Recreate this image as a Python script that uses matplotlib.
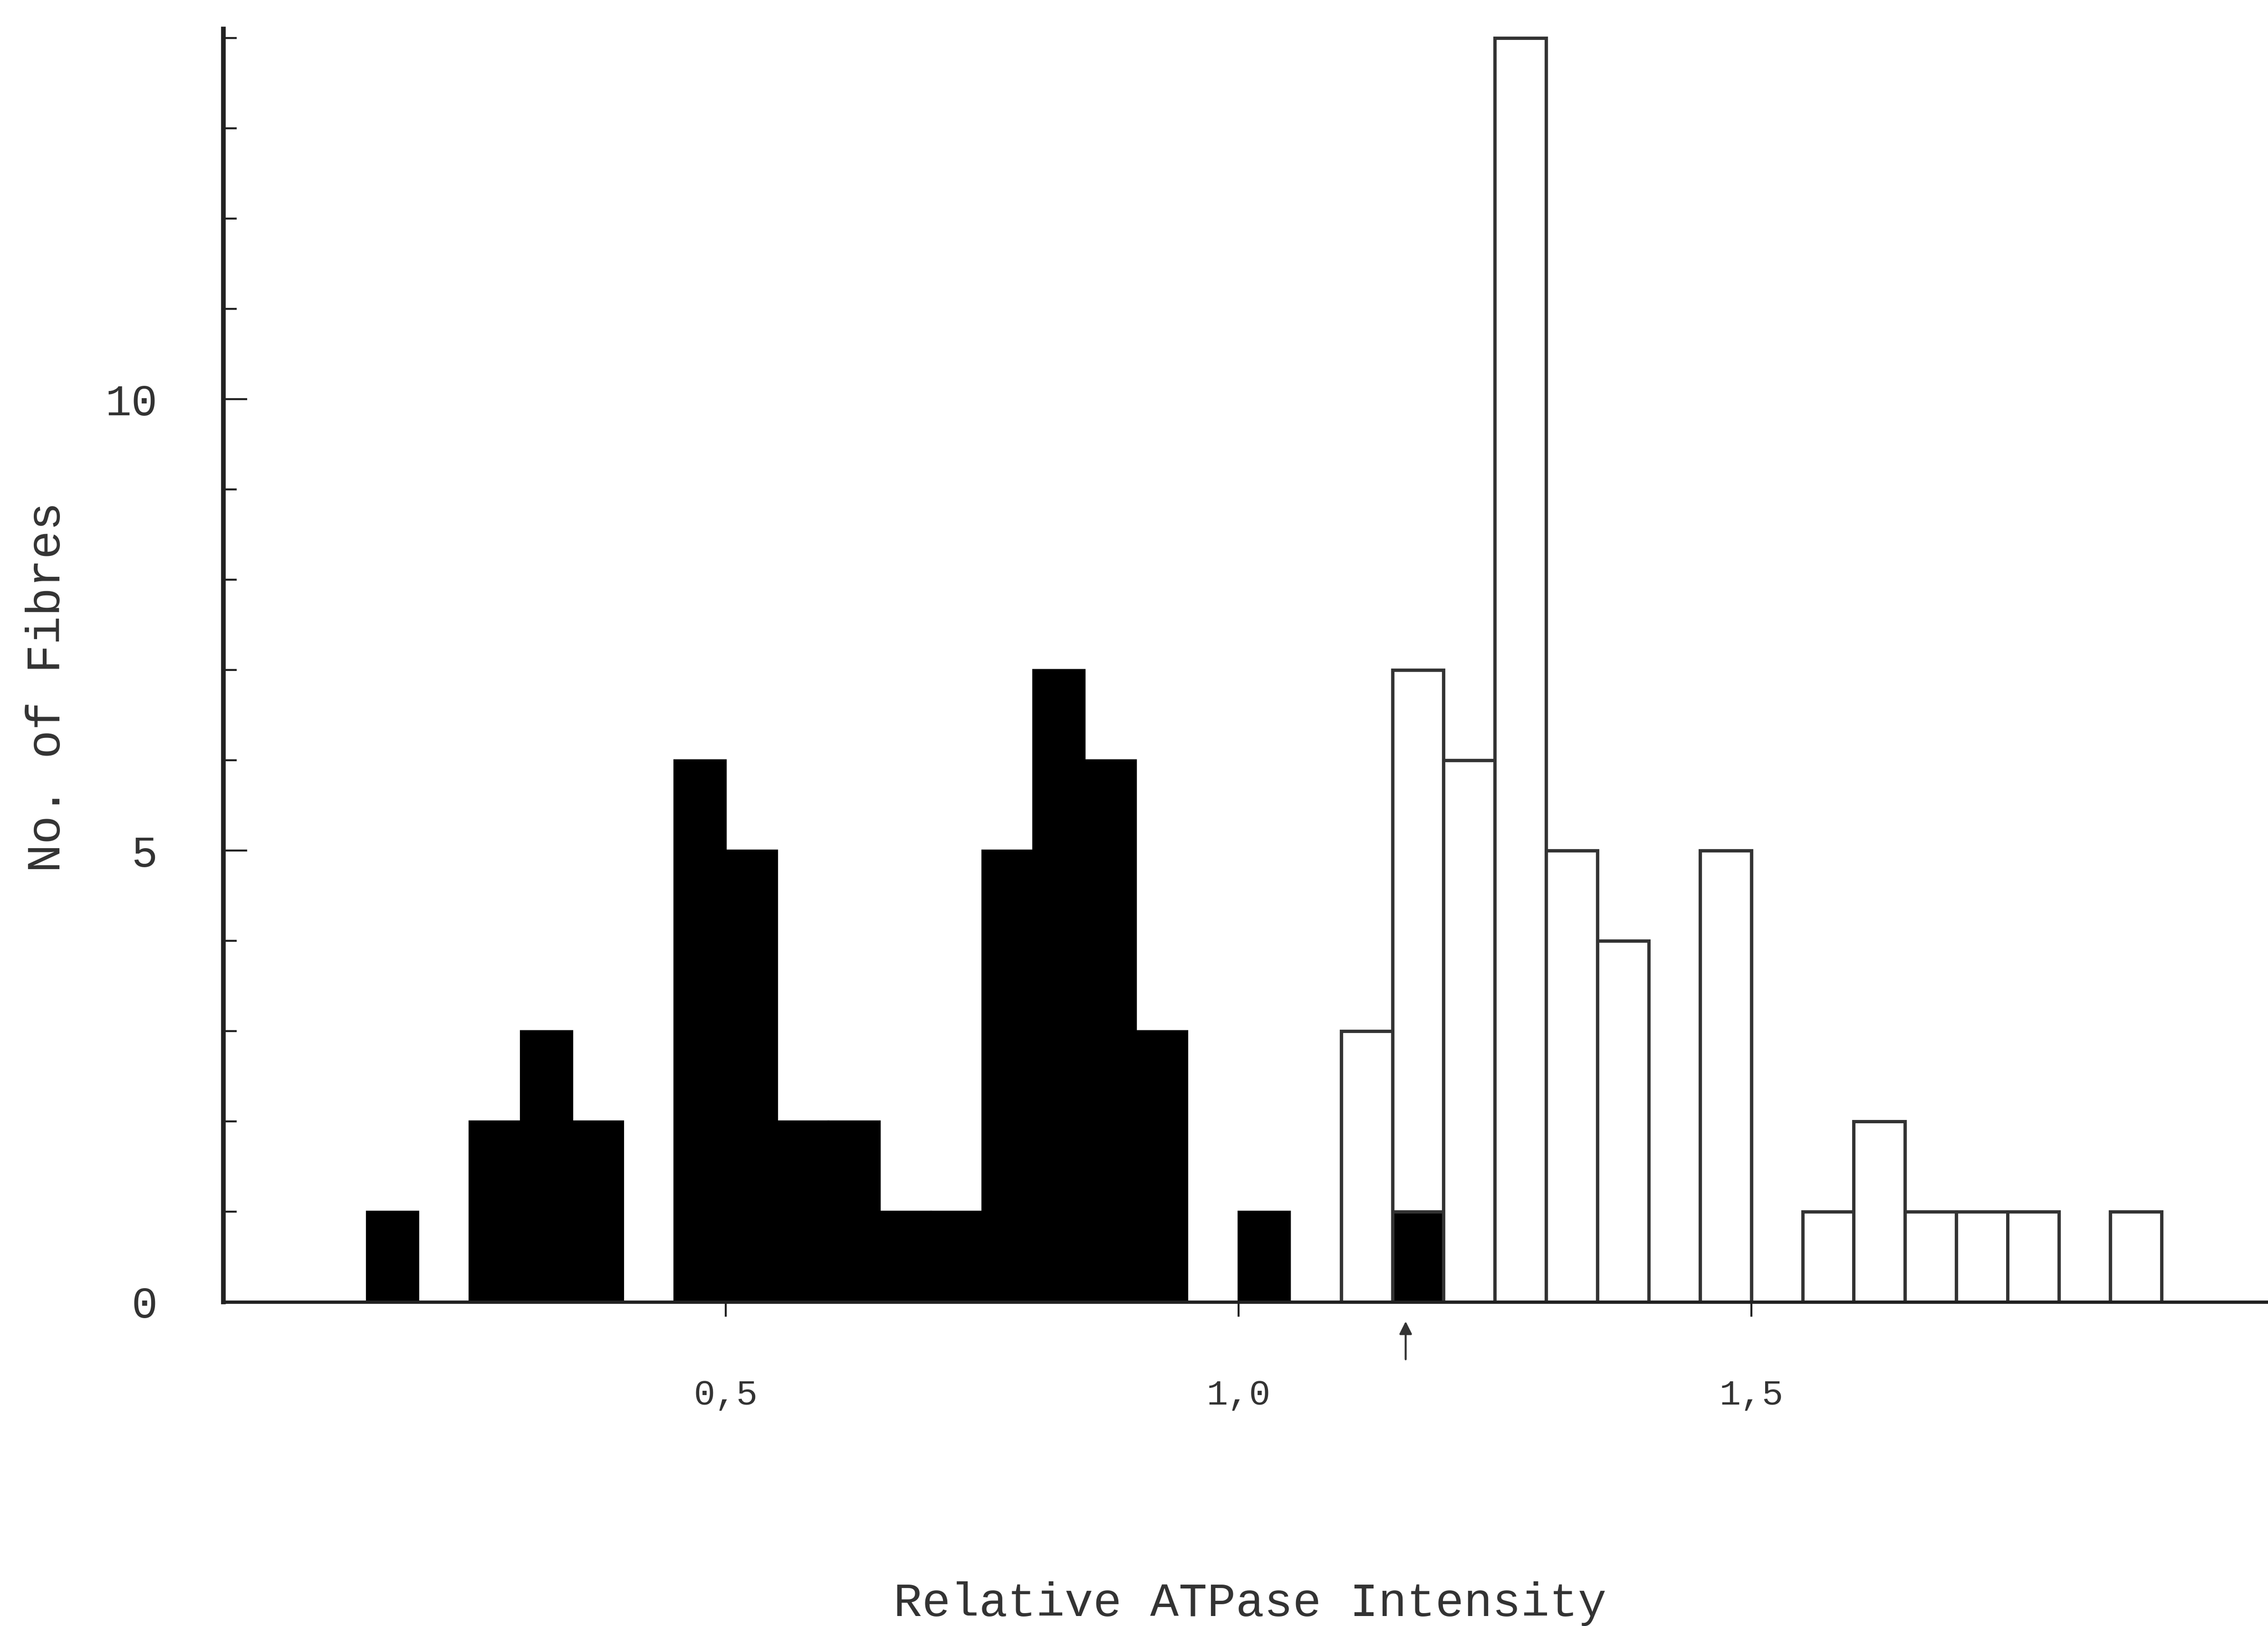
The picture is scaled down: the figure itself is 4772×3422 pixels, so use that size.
import matplotlib
matplotlib.use("Agg")
import matplotlib.pyplot as plt
import numpy as np

# Histogram data (bin start, count); bin width 0.05
bin_width = 0.05
black_bins = [0.15, 0.25, 0.30, 0.35, 0.45, 0.50, 0.55, 0.60, 0.65, 0.70,
              0.75, 0.80, 0.85, 0.90, 1.00, 1.15]
black_counts = [1, 2, 3, 2, 6, 5, 2, 2, 1, 1, 5, 7, 6, 3, 1, 1]
white_bins = [1.10, 1.15, 1.20, 1.25, 1.30, 1.35, 1.45, 1.55, 1.60, 1.65,
              1.70, 1.75, 1.85]
white_counts = [3, 6, 6, 14, 5, 4, 5, 1, 2, 1, 1, 1, 1]
arrow_x = 1.163

x_ticks = [0.5, 1.0, 1.5]
x_ticklabels = ["0,5", "1,0", "1,5"]
y_major = [0, 5, 10]
y_ticklabels = ["0", "5", "10"]

FONT = "Liberation Mono"

fig = plt.figure(figsize=(47.72, 34.22), dpi=100)
ax = fig.add_axes([0.0985, 0.1993, 0.9015, 0.7828])

# white bars stacked on black where bins coincide
black_lookup = {round(b, 2): c for b, c in zip(black_bins, black_counts)}
white_bottom = [black_lookup.get(round(b, 2), 0) for b in white_bins]

ax.bar(black_bins, black_counts, width=bin_width, align="edge",
       color="black", edgecolor="black", linewidth=3, zorder=2)
ax.bar(white_bins, white_counts, width=bin_width, bottom=white_bottom,
       align="edge", color="white", edgecolor="#333333", linewidth=5, zorder=2)

ax.set_xlim(0.01, 2.004)
ax.set_ylim(0, 14.1)

for s in ["top", "right"]:
    ax.spines[s].set_visible(False)
ax.spines["left"].set_linewidth(7)
ax.spines["bottom"].set_linewidth(5)
ax.spines["left"].set_color("#222222")
ax.spines["bottom"].set_color("#222222")

ax.set_xticks(x_ticks)
ax.set_xticklabels(x_ticklabels, fontfamily=FONT, fontsize=54, color="#333333")
ax.tick_params(axis="x", direction="out", length=22, width=3, pad=95,
               color="#222222")

ax.set_yticks(y_major)
ax.set_yticklabels(y_ticklabels, fontfamily=FONT, fontsize=66, color="#333333")
ax.set_yticks(np.arange(1, 15), minor=True)
ax.tick_params(axis="y", which="major", direction="in", length=36, width=3,
               pad=100, color="#222222")
ax.tick_params(axis="y", which="minor", direction="in", length=20, width=3,
               color="#222222")

ax.set_xlabel("Relative ATPase Intensity", fontfamily=FONT, fontsize=72,
              color="#333333", va="center", ha="center")
ax.xaxis.set_label_coords(0.502, -0.237)
ax.set_ylabel("No. of Fibres", fontfamily=FONT, fontsize=72,
              color="#333333", va="center", ha="center")
ax.yaxis.set_label_coords(-0.086, 0.483)

ax.annotate("", xy=(arrow_x, -0.2), xytext=(arrow_x, -0.65),
            xycoords="data", textcoords="data", annotation_clip=False,
            arrowprops=dict(arrowstyle="-|>", color="#333333", lw=3,
                            mutation_scale=40))

fig.savefig("out.png", dpi=100, facecolor="white")
